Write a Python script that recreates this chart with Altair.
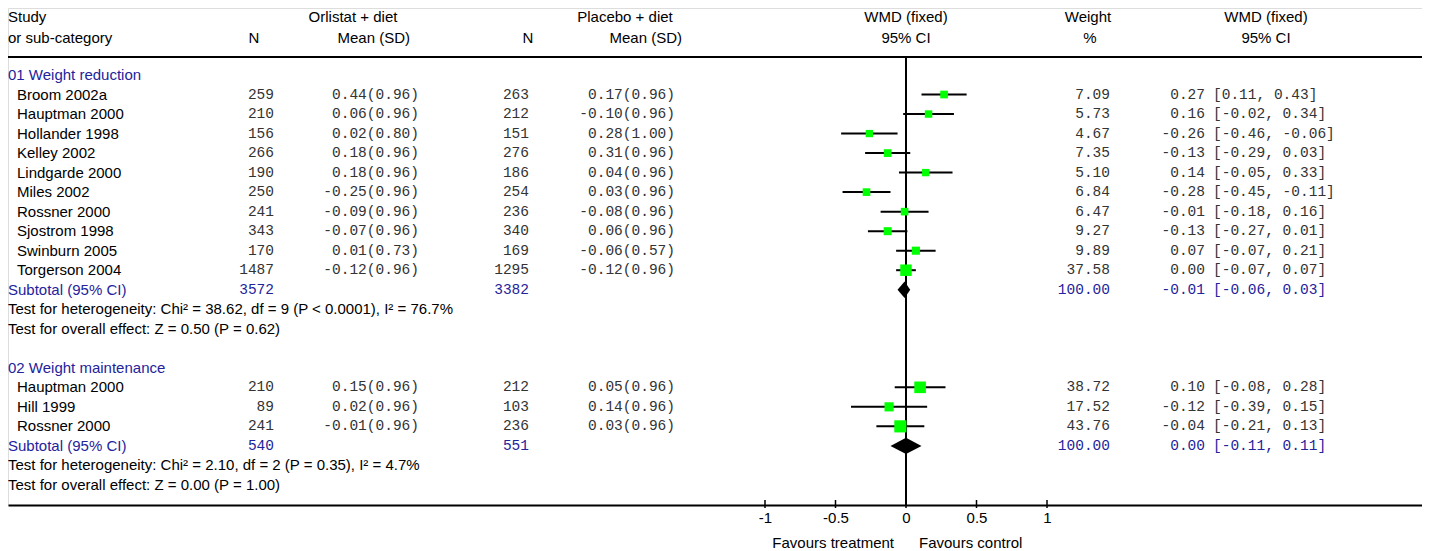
import altair as alt
import pandas as pd

# ---------------- data ----------------
g1_names = ["Broom 2002a", "Hauptman 2000", "Hollander 1998", "Kelley 2002", "Lindgarde 2000",
            "Miles 2002", "Rossner 2000", "Sjostrom 1998", "Swinburn 2005", "Torgerson 2004"]
g1_n1 = [259, 210, 156, 266, 190, 250, 241, 343, 170, 1487]
g1_mean1 = [0.44, 0.06, 0.02, 0.18, 0.18, -0.25, -0.09, -0.07, 0.01, -0.12]
g1_sd1 = [0.96, 0.96, 0.80, 0.96, 0.96, 0.96, 0.96, 0.96, 0.73, 0.96]
g1_n2 = [263, 212, 151, 276, 186, 254, 236, 340, 169, 1295]
g1_mean2 = [0.17, -0.10, 0.28, 0.31, 0.04, 0.03, -0.08, 0.06, -0.06, -0.12]
g1_sd2 = [0.96, 0.96, 1.00, 0.96, 0.96, 0.96, 0.96, 0.96, 0.57, 0.96]
g1_weight = [7.09, 5.73, 4.67, 7.35, 5.10, 6.84, 6.47, 9.27, 9.89, 37.58]
g1_wmd = [0.27, 0.16, -0.26, -0.13, 0.14, -0.28, -0.01, -0.13, 0.07, 0.00]
g1_lo = [0.11, -0.02, -0.46, -0.29, -0.05, -0.45, -0.18, -0.27, -0.07, -0.07]
g1_hi = [0.43, 0.34, -0.06, 0.03, 0.33, -0.11, 0.16, 0.01, 0.21, 0.07]

g2_names = ["Hauptman 2000", "Hill 1999", "Rossner 2000"]
g2_n1 = [210, 89, 241]
g2_mean1 = [0.15, 0.02, -0.01]
g2_sd1 = [0.96, 0.96, 0.96]
g2_n2 = [212, 103, 236]
g2_mean2 = [0.05, 0.14, 0.03]
g2_sd2 = [0.96, 0.96, 0.96]
g2_weight = [38.72, 17.52, 43.76]
g2_wmd = [0.10, -0.12, -0.04]
g2_lo = [-0.08, -0.39, -0.21]
g2_hi = [0.28, 0.15, 0.13]

group_titles = ["01 Weight reduction", "02 Weight maintenance"]
sub_n1 = [3572, 540]
sub_n2 = [3382, 551]
sub_weight = [100.00, 100.00]
sub_wmd = [-0.01, 0.00]
sub_lo = [-0.06, -0.11]
sub_hi = [0.03, 0.11]
het_text = ["Test for heterogeneity: Chi\u00b2 = 38.62, df = 9 (P < 0.0001), I\u00b2 = 76.7%",
            "Test for heterogeneity: Chi\u00b2 = 2.10, df = 2 (P = 0.35), I\u00b2 = 4.7%"]
overall_text = ["Test for overall effect: Z = 0.50 (P = 0.62)",
                "Test for overall effect: Z = 0.00 (P = 1.00)"]
tick_values = [-1, -0.5, 0, 0.5, 1]
favours = ["Favours treatment", "Favours control"]

# ---------------- tables ----------------
def fnum(v):
    return f"{v:.2f}"

studies, subs, labels = [], [], []
groups = [
    (g1_names, g1_n1, g1_mean1, g1_sd1, g1_n2, g1_mean2, g1_sd2, g1_weight, g1_wmd, g1_lo, g1_hi),
    (g2_names, g2_n1, g2_mean1, g2_sd1, g2_n2, g2_mean2, g2_sd2, g2_weight, g2_wmd, g2_lo, g2_hi),
]
BLUE = "#23239c"
row = 0
for gi, g in enumerate(groups):
    names, n1, m1, s1, n2, m2, s2, w, wmd, lo, hi = g
    labels.append({"row": row, "text": group_titles[gi], "color": BLUE})
    row += 1
    for k in range(len(names)):
        studies.append({"row": row, "name": names[k], "n1": str(n1[k]),
                        "m1": f"{fnum(m1[k])}({fnum(s1[k])})", "n2": str(n2[k]),
                        "m2": f"{fnum(m2[k])}({fnum(s2[k])})", "w": w[k], "ws": fnum(w[k]),
                        "wmd": wmd[k], "lo": lo[k], "hi": hi[k],
                        "est": fnum(wmd[k]), "rng": f"[{fnum(lo[k])}, {fnum(hi[k])}]"})
        row += 1
    subs.append({"row": row, "n1": str(sub_n1[gi]), "n2": str(sub_n2[gi]),
                 "ws": fnum(sub_weight[gi]), "est": fnum(sub_wmd[gi]),
                 "rng": f"[{fnum(sub_lo[gi])}, {fnum(sub_hi[gi])}]",
                 "wmd": sub_wmd[gi], "lo": sub_lo[gi], "hi": sub_hi[gi], "g": gi})
    labels.append({"row": row, "text": "Subtotal (95% CI)", "color": BLUE})
    row += 1
    labels.append({"row": row, "text": het_text[gi], "color": "black"})
    row += 1
    labels.append({"row": row, "text": overall_text[gi], "color": "black"})
    row += 2

sdf = pd.DataFrame(studies)
subdf = pd.DataFrame(subs)
ldf = pd.DataFrame(labels)
tdf = pd.DataFrame({"v": tick_values})

diam = []
for s in subs:
    diam.append({"g": s["g"], "x": s["lo"], "y1": s["row"], "y2": s["row"]})
    diam.append({"g": s["g"], "x": s["wmd"], "y1": s["row"] - 0.42, "y2": s["row"] + 0.42})
    diam.append({"g": s["g"], "x": s["hi"], "y1": s["row"], "y2": s["row"]})
ddf = pd.DataFrame(diam)

# ---------------- layout ----------------
W, H = 1414, 497
PX_PER_UNIT = 141.0
X0 = 898.0       # pixel of zero effect
ROW0, ROWH = 67.0, 19.52
SANS, MONO = "Liberation Sans", "Liberation Mono"
FS, FM = 15, 14.5
TXT = "#333333"

xs = alt.Scale(domain=[-X0 / PX_PER_UNIT, (W - X0) / PX_PER_UNIT], nice=False, zero=False)
ys = alt.Scale(domain=[-ROW0 / ROWH, (H - ROW0) / ROWH], reverse=True, nice=False, zero=False)
Y = alt.Y("row:Q", scale=ys, axis=None)

def col_text(df, field, xpix, align, font, size, color="black"):
    return alt.Chart(df).mark_text(align=align, baseline="middle", font=font, fontSize=size,
                                   color=color).encode(x=alt.value(xpix), y=Y, text=f"{field}:N")

def fixed_text(txt, xpix, ypix, align):
    return alt.Chart(pd.DataFrame({"t": [txt]})).mark_text(
        align=align, baseline="middle", font=SANS, fontSize=FS, color="black"
    ).encode(x=alt.value(xpix), y=alt.value(ypix), text="t:N")

layers = []

# CI lines with axis
ci = alt.Chart(sdf).mark_rule(color="black", strokeWidth=2).encode(
    x=alt.X("lo:Q", scale=xs, axis=alt.Axis(
        values=tick_values, title=None, grid=False, domainColor="black", domainWidth=2,
        ticks=False, labelFont=SANS, labelFontSize=FS,
        labelColor="black", labelPadding=5, labelExpr="'' + datum.value", labelFlush=False)),
    x2="hi:Q", y=Y)
layers.append(ci)

# tick marks crossing the axis line
layers.append(alt.Chart(tdf).mark_rule(color="black", strokeWidth=1.5).encode(
    x=alt.X("v:Q", scale=xs), y=alt.value(H - 5), y2=alt.value(H + 3)))

# zero line and top rule
layers.append(alt.Chart(pd.DataFrame({"v": [0]})).mark_rule(color="black", strokeWidth=2).encode(
    x=alt.X("v:Q", scale=xs), y=alt.value(49), y2=alt.value(H)))
layers.append(alt.Chart(pd.DataFrame({"v": [0]})).mark_rule(color="black", strokeWidth=2).encode(
    x=alt.value(0), x2=alt.value(W), y=alt.value(49)))

# squares
layers.append(alt.Chart(sdf).mark_square(color="#00ff00", opacity=1, filled=True).encode(
    x=alt.X("wmd:Q", scale=xs), y=Y,
    size=alt.Size("w:Q", scale=alt.Scale(domain=[0, 45], range=[42, 150]), legend=None)))

# diamonds
layers.append(alt.Chart(ddf).mark_area(color="black", orient="vertical").encode(
    x=alt.X("x:Q", scale=xs), y=alt.Y("y1:Q", scale=ys, axis=None), y2="y2:Q", detail="g:N"))

# left labels
layers.append(alt.Chart(ldf).mark_text(align="left", baseline="middle", font=SANS, fontSize=FS).encode(
    x=alt.value(0), y=Y, text="text:N", color=alt.Color("color:N", scale=None)))
layers.append(col_text(sdf, "name", 9, "left", SANS, FS, "black"))

# study columns
layers += [
    col_text(sdf, "n1", 266, "right", MONO, FM, TXT),
    col_text(sdf, "m1", 411, "right", MONO, FM, TXT),
    col_text(sdf, "n2", 521, "right", MONO, FM, TXT),
    col_text(sdf, "m2", 667, "right", MONO, FM, TXT),
    col_text(sdf, "ws", 1102, "right", MONO, FM, TXT),
    col_text(sdf, "est", 1197, "right", MONO, FM, TXT),
    col_text(sdf, "rng", 1205, "left", MONO, FM, TXT),
    col_text(subdf, "n1", 266, "right", MONO, FM, BLUE),
    col_text(subdf, "n2", 521, "right", MONO, FM, BLUE),
    col_text(subdf, "ws", 1102, "right", MONO, FM, BLUE),
    col_text(subdf, "est", 1197, "right", MONO, FM, BLUE),
    col_text(subdf, "rng", 1205, "left", MONO, FM, BLUE),
]

# headers
layers += [
    fixed_text("Study", 0, 9, "left"),
    fixed_text("or sub-category", 0, 30, "left"),
    fixed_text("N", 246, 30, "center"),
    fixed_text("Orlistat + diet", 345, 9, "center"),
    fixed_text("Mean (SD)", 402, 30, "right"),
    fixed_text("N", 520, 30, "center"),
    fixed_text("Placebo + diet", 617, 9, "center"),
    fixed_text("Mean (SD)", 674, 30, "right"),
    fixed_text("WMD (fixed)", 898, 9, "center"),
    fixed_text("95% CI", 898, 30, "center"),
    fixed_text("Weight", 1080, 9, "center"),
    fixed_text("%", 1082, 30, "center"),
    fixed_text("WMD (fixed)", 1258, 9, "center"),
    fixed_text("95% CI", 1258, 30, "center"),
    fixed_text(favours[0], 886, 535, "right"),
    fixed_text(favours[1], 911, 535, "left"),
]

chart = alt.layer(*layers).properties(
    width=W, height=H,
    padding={"left": 0, "right": 0, "top": 0, "bottom": 46},
    autosize=alt.AutoSizeParams(type="none"),
).configure_view(stroke=None).configure(background="white")

chart.save("out.html", embed_options={"renderer": "svg", "actions": False})
